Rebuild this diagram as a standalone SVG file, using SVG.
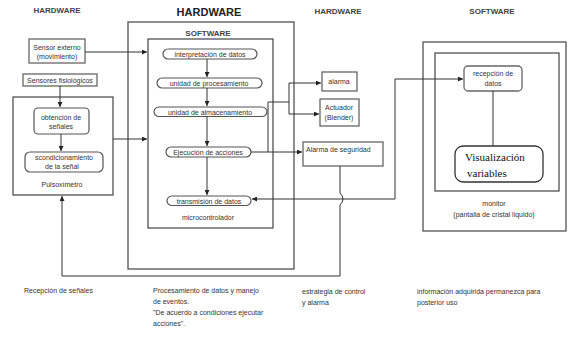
<svg xmlns="http://www.w3.org/2000/svg" width="570" height="347" viewBox="0 0 570 347">
<defs>
<style>
text{font-family:"Liberation Sans",Arial,sans-serif;font-size:7px;fill:#333}
.t{font-weight:bold;font-size:8px;fill:#444}
.tb{font-weight:bold;font-size:11px;fill:#222}
.c{text-anchor:middle}
.frame{fill:none;stroke:#444;stroke-width:1.2}
.box{fill:#fff;stroke:#666;stroke-width:1.3}
.pill{fill:#fff;stroke:#555;stroke-width:1.2}
.ln{fill:none;stroke:#333;stroke-width:1}
.vis{font-family:"Liberation Serif","Times New Roman",serif;font-size:11px;fill:#111}
</style>
<marker id="ah" viewBox="0 0 6 6" refX="6" refY="3" markerWidth="5" markerHeight="5" orient="auto-start-reverse" markerUnits="userSpaceOnUse">
<path d="M0,0 L6,3 L0,6 z" fill="#222"/>
</marker>
</defs>
<rect width="570" height="347" fill="#fff"/>

<g id="titles">
<text class="t c" x="57" y="13">HARDWARE</text>
<text class="tb c" x="209" y="16">HARDWARE</text>
<text class="t c" x="338" y="14">HARDWARE</text>
<text class="t c" x="492" y="14">SOFTWARE</text>
</g>

<g id="hardware-frame">
<rect class="frame" x="128" y="22" width="166" height="247"/>
</g>
<g id="software-frame">
<rect class="frame" x="148" y="39" width="125" height="189"/>
<text class="t c" x="208" y="36">SOFTWARE</text>
<text class="c" x="208" y="220">microcontrolador</text>
</g>

<g id="pulsoximetro">
<rect class="frame" x="13" y="97" width="100" height="98"/>
<text class="c" x="62" y="187">Pulsoxímetro</text>
</g>

<g id="sensor-externo">
<rect class="box" x="29" y="39" width="56" height="24"/>
<text class="c" x="57" y="50">Sensor externo</text>
<text class="c" x="57" y="59">(movimiento)</text>
</g>
<g id="sensores-fisiologicos">
<rect class="box" x="23" y="74" width="74" height="12"/>
<text class="c" x="60" y="83">Sensores fisiológicos</text>
</g>
<g id="obtencion">
<rect class="pill" x="34" y="108" width="55" height="26" rx="4"/>
<text class="c" x="61" y="120">obtención de</text>
<text class="c" x="61" y="129">señales</text>
</g>
<g id="acondicionamiento">
<rect class="pill" x="25" y="152" width="78" height="20" rx="5"/>
<text class="c" x="64" y="160">scondicionamiento</text>
<text class="c" x="62" y="169">de  la señal</text>
</g>

<g id="interpretacion">
<rect class="pill" x="163" y="49" width="94" height="10" rx="5"/>
<text class="c" x="210" y="56.5">interpretación de datos</text>
</g>
<g id="procesamiento">
<rect class="pill" x="157" y="78" width="105" height="10" rx="5"/>
<text class="c" x="209" y="85.5">unidad de procesamiento</text>
</g>
<g id="almacenamiento">
<rect class="pill" x="154" y="107" width="113" height="9.5" rx="5"/>
<text class="c" x="210" y="114.5">unidad de almacenamiento</text>
</g>
<g id="ejecucion">
<rect class="pill" x="166" y="147" width="85" height="10" rx="5"/>
<text class="c" x="208" y="154.5">Ejecución de acciones</text>
</g>
<g id="transmision">
<rect class="pill" x="167" y="196" width="84" height="9.5" rx="5"/>
<text class="c" x="209" y="203.5">transmisión de datos</text>
</g>

<g id="alarma">
<rect class="box" x="322" y="72" width="35" height="19"/>
<text class="c" x="339" y="84">alarma</text>
</g>
<g id="actuador">
<rect class="box" x="320" y="99" width="39" height="27"/>
<text class="c" x="339" y="110">Actuador</text>
<text class="c" x="339" y="120">(Blender)</text>
</g>
<g id="alarma-seguridad">
<rect class="box" x="303" y="142" width="80" height="24"/>
<text x="306" y="152">Alarma de seguridad</text>
</g>

<g id="monitor">
<rect class="frame" x="423" y="42" width="143" height="189"/>
<rect class="frame" x="435" y="53" width="124" height="138"/>
<text class="c" x="494" y="206">monitor</text>
<text class="c" x="494" y="217">(pantalla de cristal liquido)</text>
</g>
<g id="recepcion-datos">
<rect class="box" x="464" y="66" width="58" height="25" rx="4"/>
<text class="c" x="493" y="76">recepción de</text>
<text class="c" x="493" y="86">datos</text>
</g>
<g id="visualizacion">
<rect class="box" x="455" y="146" width="88" height="36" rx="8" style="stroke:#333"/>
<text class="vis" x="465" y="161">Visualización</text>
<text class="vis" x="467" y="177">variables</text>
</g>

<g id="connectors">
<path class="ln" d="M85,52 H147" marker-end="url(#ah)"/>
<path class="ln" d="M113,139 H147" marker-end="url(#ah)"/>
<path class="ln" d="M60,86 V107" marker-end="url(#ah)"/>
<path class="ln" d="M61,134 V151" marker-end="url(#ah)"/>
<path class="ln" d="M207,59 V77" marker-end="url(#ah)"/>
<path class="ln" d="M207,88 V106" marker-end="url(#ah)"/>
<path class="ln" d="M207,116.5 V146" marker-end="url(#ah)"/>
<path class="ln" d="M207,157 V195" marker-end="url(#ah)"/>
<path class="ln" d="M251,152 H302" marker-end="url(#ah)"/>
<path class="ln" d="M268,152 V102 H289"/>
<path class="ln" d="M289,83 V114"/>
<path class="ln" d="M289,83 H321" marker-end="url(#ah)"/>
<path class="ln" d="M289,114 H319" marker-end="url(#ah)"/>
<path class="ln" d="M252,199 H395 V79 H463" marker-start="url(#ah)" marker-end="url(#ah)"/>
<path class="ln" d="M493,91 V146"/>
<path class="ln" d="M340,166 V193 Q346,199 340,205 V276 H62 V196" marker-end="url(#ah)"/>
</g>

<g id="notes">
<text x="24" y="293">Recepción de señales</text>
<text x="153" y="293">Procesamiento de datos y manejo</text>
<text x="153" y="304">de eventos.</text>
<text x="153" y="315">"De acuerdo a  condiciones ejecutar</text>
<text x="153" y="326">acciones".</text>
<text x="302" y="294">estrategia de control</text>
<text x="302" y="305">y alarma</text>
<text x="417" y="294">información adquirida permanezca para</text>
<text x="417" y="305">posterior uso</text>
</g>
</svg>
